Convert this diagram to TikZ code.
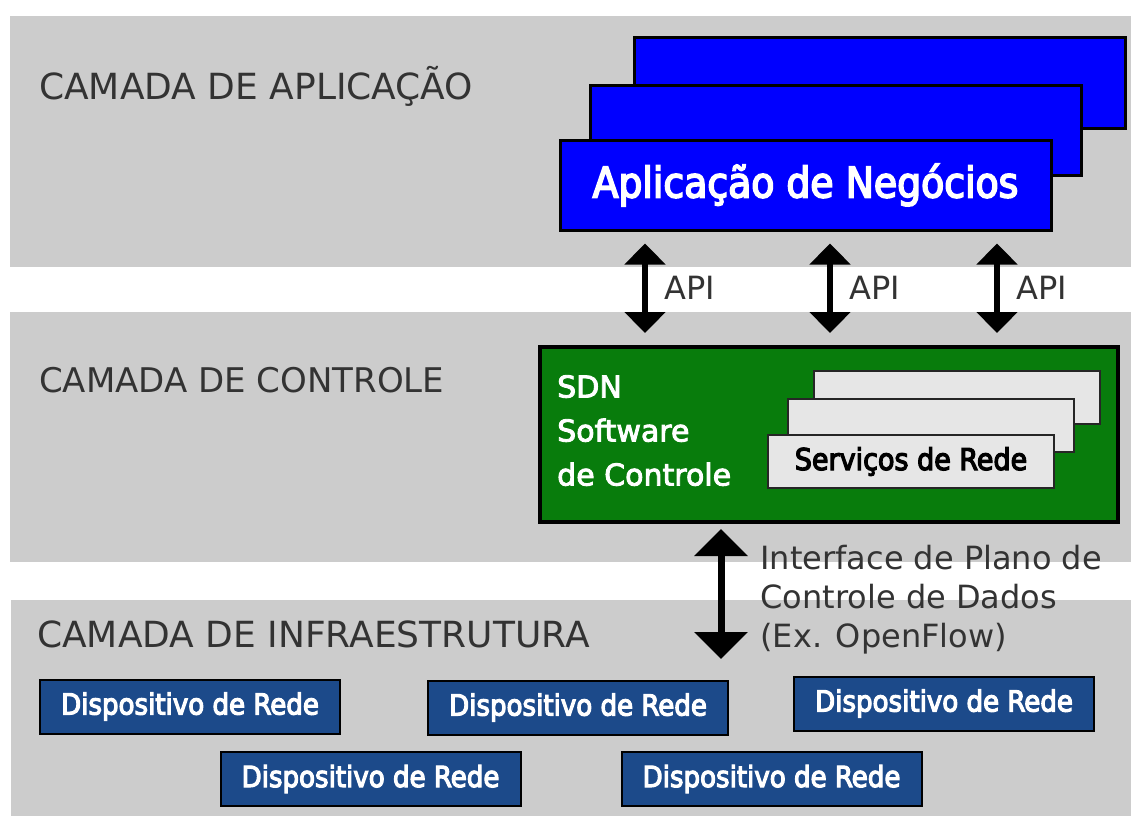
\documentclass[tikz,border=0pt]{standalone}
\usepackage{fontspec}
\setmainfont{DejaVu Sans}
\newfontfamily\estreita[FakeBold=4]{DejaVu Sans Condensed}
\newfontfamily\cheia[FakeBold=3]{DejaVu Sans}
\usepackage{tikz}
\usetikzlibrary{positioning}
\usetikzlibrary{arrows.meta}
\definecolor{fundo}{HTML}{CCCCCC}
\definecolor{cinzatexto}{HTML}{333333}
\definecolor{azulapp}{HTML}{0000FF}
\definecolor{verdesdn}{HTML}{087C0C}
\definecolor{cinzaserv}{HTML}{E6E6E6}
\definecolor{azuldisp}{HTML}{1C4A8A}

\begin{document}
\begin{tikzpicture}[x=1pt,y=-1pt]
		\tikzset{>={Triangle[width=40pt,length=21pt]}}
		\tikzstyle{titulo}=[anchor=base west, inner sep=0pt, text=cinzatexto]
		\tikzstyle{app}=[draw=black, line width=3pt, fill=azulapp, minimum width=491pt, minimum height=90pt]
		\tikzstyle{servico}=[draw=black!85, line width=2pt, fill=cinzaserv, minimum width=286pt, minimum height=53pt]
		\tikzstyle{dispositivo}=[draw=black, line width=2pt, fill=azuldisp, text=white, minimum width=300pt, minimum height=54pt, font=\estreita\fontsize{29}{34}\selectfont]
		\tikzstyle{api}=[<->, line width=5.5pt, shorten <=12pt, shorten >=12pt]
		\tikzstyle{rotulo}=[inner sep=0pt, text=cinzatexto, font=\fontsize{32}{39}\selectfont]

		\useasboundingbox (0,0) rectangle (1131,816);

		% faixas das tres camadas
		\fill[fundo] (10,16) rectangle (1131,267);
		\fill[fundo] (10,312) rectangle (1131,562);
		\fill[fundo] (11,600) rectangle (1131,816);

		\node[titulo, font=\fontsize{36}{40}\selectfont] (tapp) at (39,99) {CAMADA DE APLICAÇÃO};
		\node[titulo, font=\fontsize{34}{40}\selectfont] (tctl) at (39,392) {CAMADA DE CONTROLE};
		\node[titulo, font=\fontsize{36}{40}\selectfont] (tinf) at (37,647) {CAMADA DE INFRAESTRUTURA};

		% aplicacoes empilhadas
		\node[app] (fundoapp) at (880,83) {};
		\node[app] (meioapp) at (836,130.5) {};
		\node[app, text=white, font=\estreita\fontsize{42}{48}\selectfont] (app) at (805.5,185) {Aplicação de Negócios};

		% controlador
		\node[draw=black, line width=4pt, fill=verdesdn, minimum width=578pt, minimum height=175pt] (sdn) at (829,434.5) {};
		\node[servico] (serv3) at (957,397.5) {};
		\node[servico] (serv2) at (931,425) {};
		\node[servico, font=\estreita\fontsize{30}{36}\selectfont] (serv1) at (911,461.5) {Serviços de Rede};
		\node[anchor=north west, align=left, inner sep=0pt, text=white, font=\cheia\fontsize{30}{44}\selectfont] (sdntxt) at (557,375) {SDN\\Software\\de Controle};

		% dispositivos
		\node[dispositivo] (d1) at (190,706.5) {Dispositivo de Rede};
		\node[dispositivo] (d2) at (578,707.5) {Dispositivo de Rede};
		\node[dispositivo] (d3) at (944,703.5) {Dispositivo de Rede};
		\node[dispositivo] (d4) at (370.5,779) {Dispositivo de Rede};
		\node[dispositivo] (d5) at (771.5,779) {Dispositivo de Rede};

		\coordinate (c1) at (645,0);
		\coordinate (c2) at (830,0);
		\coordinate (c3) at (997,0);
		\coordinate (plano) at (721,659);
		\draw[api] (app.south -| c1) -- (sdn.north -| c1) node[midway, right=17pt, rotulo] (api1) {API};
		\draw[api] (app.south -| c2) -- (sdn.north -| c2) node[midway, right=17pt, rotulo] (api2) {API};
		\draw[api] (app.south -| c3) -- (sdn.north -| c3) node[midway, right=17pt, rotulo] (api3) {API};
		\draw[<->, >={Triangle[width=52pt,length=27pt]}, line width=7pt, shorten <=5pt] (sdn.south -| plano) -- (plano)
			node[midway, right=36pt, rotulo, align=left, yshift=-8pt] (interface) {Interface de Plano de\\Controle de Dados\\(Ex. OpenFlow)};
	\end{tikzpicture}
\end{document}
